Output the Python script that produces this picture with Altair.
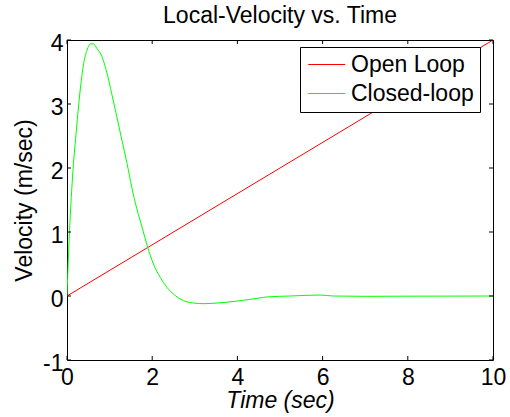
import altair as alt
import pandas as pd

# ---- data ----
series_names = ["Open Loop", "Closed-loop"]
series_colors = ["#ff0000", "#00ff00"]

open_t = [0, 10]
open_v = [0, 4]

closed_t = [0, 0.015, 0.06, 0.14, 0.22, 0.31, 0.39, 0.47, 0.55, 0.62,
            0.70, 0.82, 0.94, 1.05, 1.17, 1.29, 1.41, 1.52, 1.64, 1.76,
            1.89, 2.03, 2.19, 2.34, 2.5, 2.73, 2.97, 3.2, 3.52, 3.99,
            4.53, 4.69, 5.24, 5.94, 6.25, 7.0, 7.81, 10]
closed_v = [0, 0.29, 1.02, 1.96, 2.59, 3.22, 3.63, 3.84, 3.94, 3.94,
            3.87, 3.74, 3.48, 3.16, 2.80, 2.43, 2.07, 1.70, 1.36, 1.08,
            0.77, 0.50, 0.29, 0.14, 0.03, -0.07, -0.11, -0.12, -0.11, -0.08,
            -0.03, -0.015, 0.0, 0.015, 0.0, -0.005, -0.003, 0.0]

x_ticks = [0, 2, 4, 6, 8, 10]
y_ticks = [-1, 0, 1, 2, 3, 4]

df = pd.concat([
    pd.DataFrame({"t": open_t, "v": open_v, "series": series_names[0]}),
    pd.DataFrame({"t": closed_t, "v": closed_v, "series": series_names[1]}),
], ignore_index=True)
xt = pd.DataFrame({"t": x_ticks})
yt = pd.DataFrame({"v": y_ticks})

W, H = 426, 320
FONT = "Liberation Sans"
FS = 23
xs = alt.Scale(domain=[0, 10], nice=False, zero=False)
ys = alt.Scale(domain=[-1, 4], nice=False, zero=False)

x_axis = alt.Axis(values=x_ticks, title="Time (sec)", titleFontStyle="italic",
                  labelPadding=6, labelFlush=False, labelExpr="'' + datum.value",
                  titleX=W / 2, titleY=47,
                  titleBaseline="alphabetic", titleAlign="center")
y_axis = alt.Axis(values=y_ticks, title="Velocity (m/sec)", labelPadding=4,
                  labelFlush=False, labelExpr="'' + datum.value",
                  labelOffset=3, titleX=-36, titleY=H / 2, titleAngle=270,
                  titleBaseline="alphabetic", titleAlign="center")

lines = alt.Chart(df).mark_line(strokeWidth=1, clip=True, interpolate="monotone").encode(
    x=alt.X("t:Q", scale=xs, axis=x_axis),
    y=alt.Y("v:Q", scale=ys, axis=y_axis),
    color=alt.Color("series:N",
                    scale=alt.Scale(domain=series_names, range=series_colors),
                    legend=alt.Legend(title=None, orient="none", legendX=233, legendY=7,
                                      symbolType="M-1,0L3,0", symbolSize=342,
                                      symbolStrokeWidth=1, symbolOpacity=1,
                                      labelFontSize=FS, labelFont=FONT,
                                      labelColor="black", labelOffset=22, padding=6,
                                      rowPadding=5, strokeColor="black", fillColor="white",
                                      cornerRadius=0)),
)

tick_style = dict(color="black", strokeWidth=1)
bottom_ticks = alt.Chart(xt).mark_rule(**tick_style).encode(
    x=alt.X("t:Q", scale=xs, axis=x_axis), y=alt.value(H), y2=alt.value(H - 4))
top_ticks = alt.Chart(xt).mark_rule(**tick_style).encode(
    x=alt.X("t:Q", scale=xs, axis=x_axis), y=alt.value(0), y2=alt.value(4))
left_ticks = alt.Chart(yt).mark_rule(**tick_style).encode(
    y=alt.Y("v:Q", scale=ys, axis=y_axis), x=alt.value(0), x2=alt.value(4))
right_ticks = alt.Chart(yt).mark_rule(**tick_style).encode(
    y=alt.Y("v:Q", scale=ys, axis=y_axis), x=alt.value(W), x2=alt.value(W - 4))

chart = alt.layer(lines, bottom_ticks, top_ticks, left_ticks, right_ticks).properties(
    width=W, height=H,
    title=alt.TitleParams("Local-Velocity vs. Time", fontSize=FS, fontWeight="normal",
                          font=FONT, color="black", frame="group", anchor="middle",
                          baseline="alphabetic", offset=19, dy=33),
    autosize=alt.AutoSizeParams(type="none"),
    padding={"left": 67, "top": 40, "right": 17, "bottom": 57},
).configure(background="white").configure_view(
    stroke="black", strokeWidth=1
).configure_axis(
    domain=False, ticks=False, tickSize=0, grid=False,
    labelFont=FONT, labelFontSize=FS, labelColor="black",
    titleFont=FONT, titleFontSize=FS, titleFontWeight="normal", titleColor="black",
)

chart.save("out.html", embed_options={"renderer": "svg", "actions": False})
